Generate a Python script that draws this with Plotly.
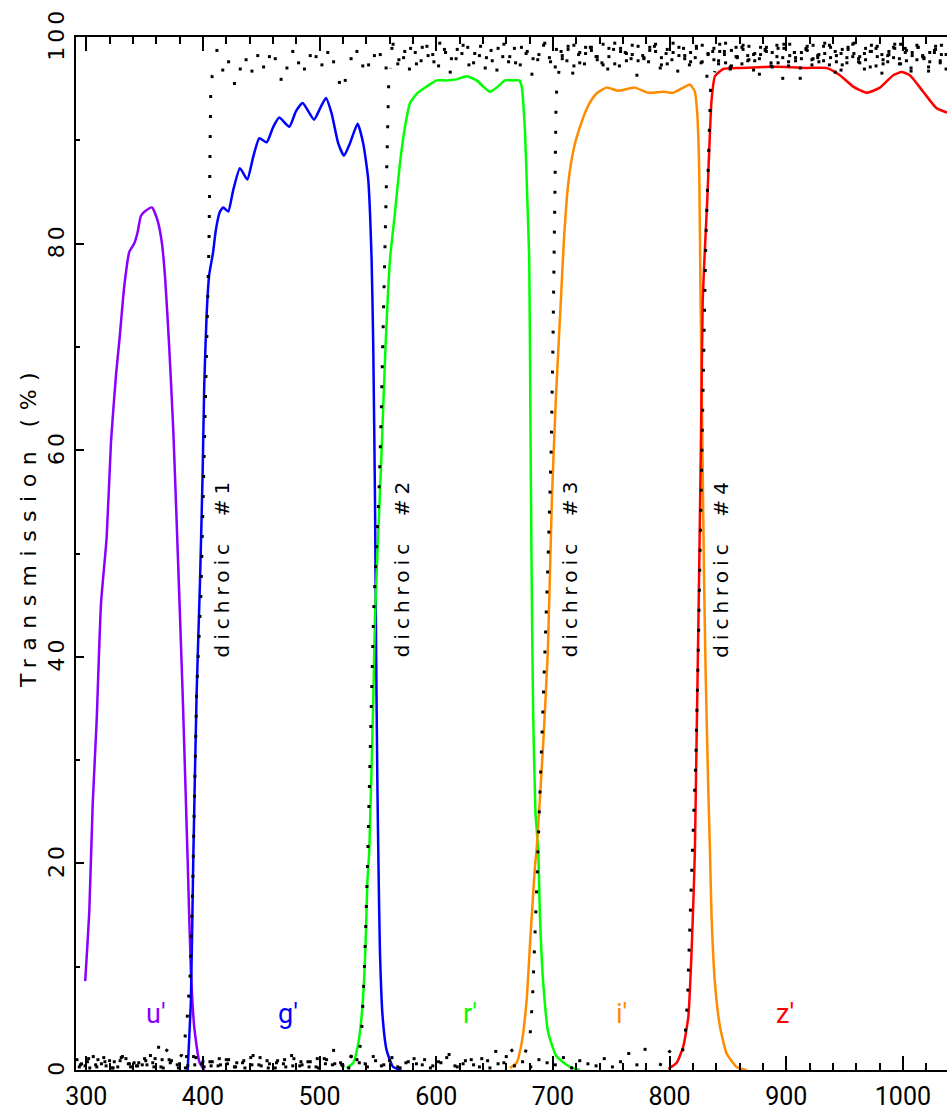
import plotly.graph_objects as go

# ---------------- filter curves (wavelength nm, transmission %) ----------------
u_x = [299.1, 302.6, 305.5, 308.9, 312.6, 317.5, 321.2, 325.5, 328.3, 332.6, 336.9, 341.1, 344.0,
       346.9, 351.2, 356.3, 361.2, 364.9, 367.7, 371.1, 374.6, 378.3, 382.6, 386.9, 389.7, 392.6,
       396.9, 401.0]
u_y = [8.6, 15.4, 25.7, 33.8, 45.1, 51.6, 60.8, 67.3, 70.5, 75.9, 79.2, 80.0, 81.1,
       82.7, 83.2, 83.5, 82.2, 80.0, 76.5, 70.0, 61.9, 50.5, 36.5, 20.3, 9.5, 4.1,
       0.8, 0.0]

g_x = [386.9, 389.7, 391.7, 394.6, 397.5, 399.8, 401.1, 403.2, 405.4, 408.5, 411.2, 414.6, 417.4,
       421.7, 426.0, 431.7, 438.0, 443.1, 448.3, 454.6, 460.3, 465.4, 474.0, 479.7, 485.5, 495.2,
       500.9, 505.5, 510.3, 516.0, 520.9, 526.0, 532.6, 537.4, 541.7, 544.6, 546.0, 547.5, 548.5,
       549.5, 550.3, 551.7, 554.0, 557.5, 563.0, 570.0]
g_y = [0.0, 6.8, 20.3, 36.5, 47.3, 58.1, 66.2, 73.2, 77.0, 79.0, 81.4, 83.1, 83.5,
       83.1, 85.2, 87.3, 86.2, 88.4, 90.2, 89.8, 91.3, 92.2, 91.3, 92.8, 93.6, 92.0,
       93.2, 94.1, 92.6, 89.7, 88.5, 89.7, 91.6, 89.7, 86.2, 78.4, 70.0, 55.0, 40.0,
       28.0, 21.3, 11.6, 5.2, 1.9, 0.3, 0.0]

r_x = [523.2, 528.9, 533.2, 536.0, 538.0, 539.7, 540.9, 542.6, 546.0, 547.5, 550.3, 553.2, 556.5,
       560.3, 564.6, 568.9, 573.2, 577.5, 583.2, 591.8, 600.3, 608.9, 617.5, 626.0, 634.6, 640.3,
       646.0, 651.8, 658.9, 666.0, 671.1, 673.2, 676.0, 678.0, 679.7, 680.6, 681.6, 683.0, 685.0,
       687.4, 688.9, 691.7, 696.0, 703.2, 714.6, 723.0]
r_y = [0.2, 0.7, 2.6, 5.2, 8.4, 13.2, 18.1, 21.3, 35.8, 43.9, 52.0, 60.0, 70.0,
       78.4, 83.0, 87.8, 91.3, 93.6, 94.5, 95.2, 95.8, 95.8, 95.9, 96.2, 95.8, 95.2,
       94.7, 95.1, 95.8, 95.8, 95.8, 95.2, 91.0, 84.5, 78.4, 65.0, 50.0, 35.0, 25.0,
       21.3, 14.8, 8.4, 3.6, 1.3, 0.3, 0.0]

i_x = [663.2, 668.9, 673.2, 677.5, 680.9, 684.6, 686.0, 691.4, 695.7, 699.1, 702.5, 706.8, 709.5,
       712.0, 714.6, 718.5, 723.2, 728.0, 733.0, 738.0, 746.0, 756.0, 770.3, 781.7, 794.6, 803.1,
       811.7, 817.4, 821.7, 823.7, 825.4, 826.5, 828.0, 829.5, 831.0, 833.0, 834.6, 836.0, 838.9,
       843.2, 848.9, 857.5, 866.0]
i_y = [0.2, 0.7, 2.6, 6.8, 13.2, 19.7, 21.3, 31.0, 40.7, 55.2, 64.9, 74.5, 80.5,
       84.5, 87.1, 89.5, 91.3, 92.8, 93.9, 94.6, 95.1, 94.8, 95.1, 94.6, 94.7, 94.6,
       95.1, 95.4, 94.7, 92.6, 87.1, 75.0, 62.0, 48.0, 38.0, 28.0, 21.3, 14.8, 8.4,
       4.2, 1.6, 0.3, 0.0]

z_x = [798.9, 806.1, 811.8, 816.1, 818.9, 820.9, 821.7, 823.3, 825.0, 826.8, 828.4, 830.5, 832.3,
       834.0, 836.0, 838.9, 846.0, 860.3, 880.3, 900.3, 917.5, 934.6, 946.0, 957.4, 968.9, 980.3,
       991.7, 998.9, 1006.0, 1017.4, 1028.9, 1037.5, 1040.0]
z_y = [0.1, 0.7, 2.3, 5.2, 11.6, 18.1, 21.3, 33.0, 45.5, 60.0, 74.5, 80.0, 84.2,
       89.1, 93.9, 96.2, 96.9, 97.0, 97.1, 97.1, 97.0, 97.0, 96.3, 95.2, 94.6, 95.1,
       96.3, 96.6, 96.3, 94.7, 93.1, 92.7, 92.6]

# ---------------- dichroic curves (edges) ----------------
d1_edge_x = [368, 374, 379, 382, 384.6, 386.5, 389.2, 391.2, 392.6, 394.6, 398.3, 401.2, 402.6,
             404.3, 405.2, 405.8, 406.3, 406.7, 408.0, 410.3]
d1_edge_y = [2.0, 1.5, 1.0, 1.5, 3.1, 5.0, 9.5, 17.6, 25.7, 36.5, 46.2, 60.8, 68.9,
             75.0, 80.0, 86.0, 91.0, 94.9, 96.3, 96.8]
d2_edge_x = [526, 531, 534, 536, 537.5, 538.9, 540.9, 543.0, 544.6, 546.2, 548.5, 550.8, 552.5,
             554.5, 556.0, 557.5, 558.3, 559.2, 561.0]
d2_edge_y = [1.4, 1.0, 1.6, 3.6, 7.4, 11.3, 19.0, 28.0, 36.8, 44.0, 50.0, 55.5, 62.0,
             72.0, 79.7, 85.5, 91.3, 95.4, 97.0]
d3_edge_x = [664, 670, 676, 680.3, 682.6, 684.0, 685.2, 686.6, 688.0, 690.0, 693.0, 696.0, 698.5,
             700.0, 700.9, 701.9, 702.6, 703.2, 705.5]
d3_edge_y = [2.0, 1.2, 1.6, 3.1, 7.1, 11.0, 15.0, 19.0, 24.0, 30.0, 40.0, 50.0, 60.0,
             70.0, 80.0, 89.0, 92.9, 94.9, 97.0]
d4_edge_x = [791.7, 797.5, 802.3, 810.3, 813.2, 814.6, 815.5, 816.0, 817.4, 818.9, 820.5, 822.5,
             824.5, 826.0, 827.5, 829.0, 831.0, 833.0, 834.6, 835.2, 838.9]
d4_edge_y = [0.4, 2.0, 1.6, 1.3, 3.1, 5.0, 7.0, 9.0, 13.0, 19.0, 24.0, 30.0,
             40.0, 50.0, 60.0, 70.0, 80.0, 87.0, 92.9, 94.9, 96.7]

# ---------------- dichroic plateaus (noisy, read as scattered dots) ----------------
d1_top_start, d1_top_step = 412, 5
d1_top = [98.7, 96.8, 97.6, 95.5, 96.9, 97.8, 96.7, 98.2, 97.1, 98.1, 97.9, 95.9, 97.0, 98.6, 97.5,
          96.9, 98.2, 98.1, 97.3, 98.5, 97.6, 95.6, 95.8, 97.9, 98.6, 97.2, 97.3, 98.2, 98.3, 97.0,
          98.9, 97.4, 98.0, 96.9, 98.5, 97.7, 99.1, 98.3, 97.2, 98.8, 96.6, 97.9, 98.4, 99.0, 97.5,
          98.2, 97.0, 98.7, 96.8, 98.1, 97.6, 98.9, 97.3, 98.4, 96.4, 97.8, 99.2, 98.0, 97.1, 98.6,
          97.7, 96.5, 98.3, 97.4, 99.0, 98.1, 97.5, 96.9, 98.8, 97.2, 98.5, 97.9, 96.3, 98.2, 97.6,
          99.1, 97.0, 98.4, 97.8, 96.7, 98.9, 97.3, 98.0, 97.5, 96.2, 98.6, 97.7, 98.3, 97.1, 99.0,
          97.4, 98.2, 96.8, 97.9, 98.7, 97.2, 98.1, 96.0, 97.6, 98.5, 97.0, 98.8, 97.3, 98.0, 97.7,
          99.2, 96.6, 98.4, 97.5, 98.1, 97.9, 96.9, 98.6, 97.2, 98.3, 97.6, 98.0, 97.4, 98.9, 96.7,
          97.8, 98.2, 97.1, 98.5, 97.7, 96.9]
d2_top_start, d2_top_step = 563, 5
d2_top = [99.3, 97.8, 98.6, 98.9, 97.4, 99.0, 98.2, 97.6, 99.4, 98.5, 97.9, 98.8, 99.2, 97.3, 98.4,
          99.1, 98.0, 97.7, 98.9, 99.3, 98.1, 97.5, 99.0, 98.6, 97.9, 98.3, 99.4, 97.6, 98.8, 98.2,
          99.1, 97.2, 98.5, 99.0, 98.7, 97.8, 99.3, 98.1, 97.4, 98.9, 98.4, 99.2, 97.7, 98.0, 99.0,
          98.6, 97.3, 98.8, 99.4, 98.2, 97.9, 98.5, 99.1, 97.6, 98.3, 98.9, 99.3, 97.5, 98.7, 98.0,
          99.2, 97.8, 98.4, 99.0, 98.6, 97.1, 98.9, 99.3, 98.2, 97.7, 98.5, 99.1, 97.9, 98.3, 99.4,
          98.0, 97.6, 98.8, 99.0, 98.4, 97.5, 98.9, 99.2, 98.1, 97.8, 98.6, 99.3, 97.4, 98.7, 98.2,
          99.0, 97.9, 98.5, 99.1, 98.3]
d3_top_start, d3_top_step = 708, 5
d3_top = [97.9, 98.8, 99.2, 97.5, 98.4, 99.0, 98.1, 97.3, 98.9, 99.4, 98.6, 97.7, 98.3, 99.1, 97.9,
          98.7, 99.3, 98.0, 97.4, 98.5, 99.0, 98.2, 97.6, 98.9, 99.2, 98.4, 97.8, 98.6, 99.4, 97.2,
          98.1, 98.8, 99.1, 97.7, 98.3, 99.0, 98.5, 97.5, 98.9, 99.3, 98.0, 97.9, 98.7, 99.2, 97.6,
          98.4, 99.0, 98.2, 97.3, 98.8, 99.4, 98.1, 97.8, 98.6, 99.1, 97.4, 98.3, 98.9, 99.3, 97.7,
          98.5, 99.0, 98.0, 97.6, 98.8, 99.2]
d4_top_start, d4_top_step = 842, 5
d4_top = [97.4, 98.6, 96.9, 98.1, 99.0, 97.7, 98.3, 96.4, 98.8, 97.5, 99.2, 98.0, 97.2, 98.5, 96.0,
          98.9, 97.8, 98.2, 99.1, 97.3, 98.6, 96.8, 98.0, 99.3, 97.6, 98.4, 97.1, 98.9, 96.5, 98.2,
          99.0, 97.9, 98.5, 97.0, 99.2, 98.1, 96.7, 98.7, 97.5, 98.3]

d1_low_start, d1_low_step = 292, 7
d1_low = [1.0, 0.4, 1.3, 0.6, 0.9, 0.3, 1.1, 0.7, 0.5, 1.4, 2.2]
d2_low_start, d2_low_step = 295, 7
d2_low = [0.5, 1.1, 0.3, 0.8, 0.2, 1.2, 0.6, 0.4, 0.9, 0.3, 1.0, 0.7, 0.2, 1.3, 0.5, 0.8, 0.4,
          1.1, 0.6, 0.3, 0.9, 0.5, 1.2, 0.2, 0.7, 1.0, 0.4, 0.8, 0.3, 1.1, 0.6, 1.9, 0.5]
d3_low_start, d3_low_step = 294, 7
d3_low = [0.3, 0.8, 0.5, 1.2, 0.2, 0.9, 0.6, 0.4, 1.1, 0.7, 0.3, 1.0, 0.5, 0.2, 1.3, 0.6, 0.8,
          0.4, 1.0, 0.3, 0.7, 1.2, 0.5, 0.9, 0.2, 0.6, 1.4, 0.4, 0.8, 0.3, 1.1, 0.5, 0.7, 0.2,
          1.0, 0.6, 1.3, 0.4, 0.9, 0.3, 0.7, 1.1, 0.5, 0.2, 0.8, 1.2, 0.4, 0.6, 1.0, 0.3, 0.9,
          1.8, 0.7]
d4_low_start, d4_low_step = 296, 7
d4_low = [0.6, 0.2, 1.0, 0.4, 0.8, 1.3, 0.3, 0.7, 0.5, 1.1, 0.2, 0.9, 0.6, 0.4, 1.2, 0.3, 0.8,
          0.5, 1.0, 0.7, 0.2, 1.4, 0.4, 0.6, 0.9, 0.3, 1.1, 0.5, 0.8, 0.2, 1.0, 0.6, 0.4, 1.3,
          0.7, 0.3, 0.9, 0.5, 1.2, 0.2, 0.8, 0.6, 1.0, 0.4, 0.7, 1.5, 0.3, 0.9, 0.5, 1.1, 0.2,
          0.6, 1.3, 0.4, 0.8, 0.3, 1.0, 0.7, 0.5, 1.2, 0.2, 0.9, 0.6, 0.4, 1.1, 0.3, 0.8, 1.6,
          0.5, 2.0]

# ---------------- labels ----------------
filter_names = ["u'", "g'", "r'", "i'", "z'"]
filter_colors = ["#8a00ff", "#0000ff", "#00ff00", "#ff8c00", "#ff0000"]
filter_label_x = [360, 473, 629, 759, 899]
filter_label_y = [5.4, 5.4, 5.4, 5.4, 5.4]

dichroic_names = ["dichroic  #1", "dichroic  #2", "dichroic  #3", "dichroic  #4"]
dichroic_label_x = [416, 571, 715, 844]
dichroic_label_y = 48.7

x_range = [291.2, 1037.8]
y_range = [0, 100]
y_ticks = [0, 20, 40, 60, 80, 100]

NARROW = "Roboto, DejaVu Sans, sans-serif"
WIDE = "DejaVu Sans, Verdana, sans-serif"

fig = go.Figure()

curves = [(u_x, u_y), (g_x, g_y), (r_x, r_y), (i_x, i_y), (z_x, z_y)]
for (cx, cy), col, nm in zip(curves, filter_colors, filter_names):
    fig.add_trace(go.Scatter(x=cx, y=cy, mode="lines", name=nm,
                             line=dict(color=col, width=2.5, shape="spline", smoothing=0.5),
                             hoverinfo="skip"))

edges = [(d1_edge_x, d1_edge_y), (d2_edge_x, d2_edge_y), (d3_edge_x, d3_edge_y), (d4_edge_x, d4_edge_y)]
for ex, ey in edges:
    fig.add_trace(go.Scatter(x=ex, y=ey, mode="lines",
                             line=dict(color="black", width=3, dash="3px,17px"),
                             hoverinfo="skip"))

plateaus = [(d1_top_start, d1_top_step, d1_top), (d2_top_start, d2_top_step, d2_top),
            (d3_top_start, d3_top_step, d3_top), (d4_top_start, d4_top_step, d4_top),
            (d1_low_start, d1_low_step, d1_low), (d2_low_start, d2_low_step, d2_low),
            (d3_low_start, d3_low_step, d3_low), (d4_low_start, d4_low_step, d4_low)]
for start, step, vals in plateaus:
    px = [start + step * k for k in range(len(vals))]
    fig.add_trace(go.Scatter(x=px, y=vals, mode="markers",
                             marker=dict(symbol="square", size=3, color="black", line=dict(width=0)),
                             hoverinfo="skip"))

annotations = []
for nm, col, lx, ly in zip(filter_names, filter_colors, filter_label_x, filter_label_y):
    annotations.append(dict(x=lx, y=ly, xref="x", yref="y", text=nm, showarrow=False,
                            font=dict(family=NARROW, size=27, color=col),
                            xanchor="center", yanchor="middle"))
for nm, lx in zip(dichroic_names, dichroic_label_x):
    annotations.append(dict(x=lx, y=dichroic_label_y, xref="x", yref="y",
                            text='<span style="letter-spacing:5px">' + nm + '</span>',
                            showarrow=False, textangle=-90,
                            font=dict(family=WIDE, size=20, color="black"),
                            xanchor="center", yanchor="middle"))
annotations.append(dict(x=-0.0551, y=0.5266, xref="paper", yref="paper",
                        text='<span style="letter-spacing:8.5px">Transmission (%)</span>',
                        showarrow=False, textangle=-90,
                        font=dict(family=WIDE, size=22, color="black"),
                        xanchor="center", yanchor="middle"))

fig.update_layout(width=947, height=1110, margin=dict(l=76, r=0, t=37, b=40),
                  plot_bgcolor="white", paper_bgcolor="white", showlegend=False,
                  annotations=annotations)

fig.update_xaxes(range=x_range, tickmode="linear", tick0=300, dtick=100,
                 ticks="inside", ticklen=14, tickwidth=2, tickcolor="black",
                 showline=True, linewidth=2, linecolor="black", mirror="ticks",
                 showgrid=False, zeroline=False, ticklabelstandoff=3, automargin=False,
                 tickfont=dict(family=NARROW, size=25, color="black"),
                 minor=dict(ticks="inside", ticklen=7, tickwidth=2, tickcolor="black",
                            tickmode="linear", tick0=300, dtick=20, showgrid=False))
fig.update_yaxes(range=y_range, tickmode="array", tickvals=y_ticks,
                 ticktext=['<span style="letter-spacing:4px">%d</span>' % v for v in y_ticks],
                 ticks="inside", ticklen=8, tickwidth=2, tickcolor="black",
                 showline=True, linewidth=2, linecolor="black", mirror=False,
                 showgrid=False, zeroline=False, tickangle=-90, ticklabelstandoff=1,
                 automargin=False,
                 tickfont=dict(family=WIDE, size=22, color="black"),
                 minor=dict(ticks="inside", ticklen=4, tickwidth=2, tickcolor="black",
                            tickmode="linear", tick0=0, dtick=10, showgrid=False))

fig.write_html("out.html", config={"displayModeBar": False},
               post_script="document.body.style.margin='0';document.body.style.overflow='hidden';")
